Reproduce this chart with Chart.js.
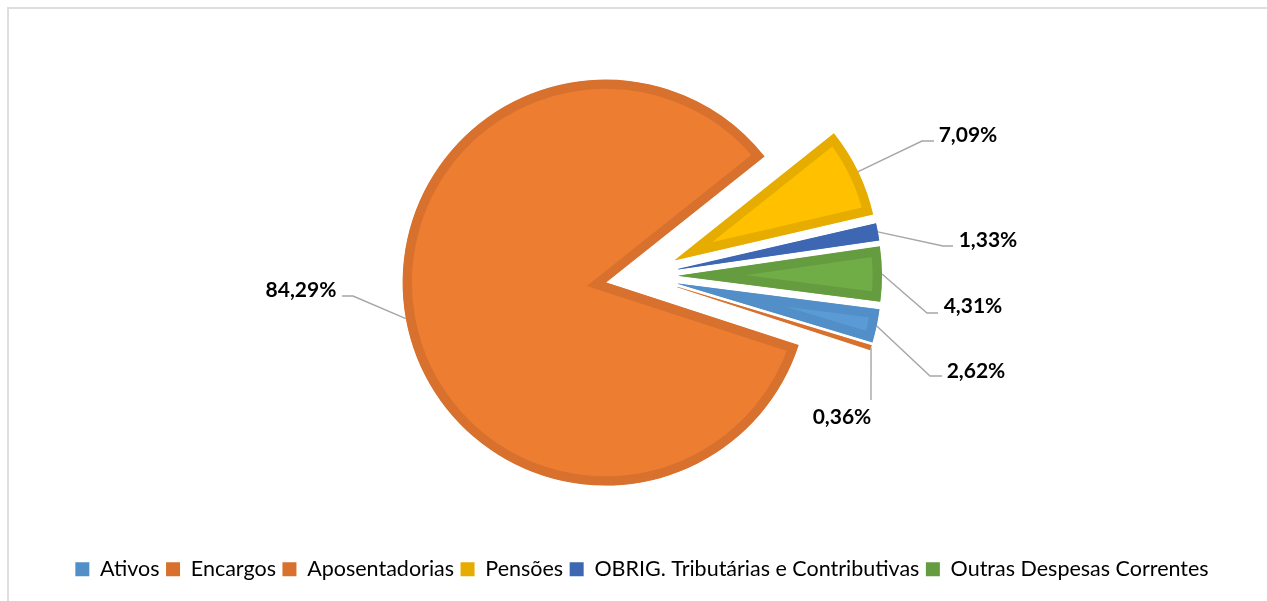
<!DOCTYPE html>
<html>
<head>
<meta charset="utf-8">
<script src="https://cdn.jsdelivr.net/npm/chart.js@4/dist/chart.umd.min.js"></script>
<style>
    html, body { margin: 0; padding: 0; background: #fff; overflow: hidden; }
    canvas { display: block; }
</style>
</head>
<body>
<canvas id="despesasChart" width="1267" height="601"></canvas>
<script>
// dados
const categorias = ['Ativos', 'Encargos', 'Aposentadorias', 'Pensões', 'OBRIG. Tributárias e Contributivas', 'Outras Despesas Correntes'];
const percentuais = [2.62, 0.36, 84.29, 7.09, 1.33, 4.31];

// cores (preenchimento / borda)
const corFundo = ['#5B9BD5', '#ED7D31', '#ED7D31', '#FFC000', '#4472C4', '#70AD47'];
const corBorda = ['#528fc8', '#d8712d', '#d8712d', '#e6ac00', '#3d67b2', '#659c40'];

const EXPLOSAO = 37; // afastamento de cada fatia

// posição dos rótulos relativa ao centro da pizza: [cotoveloX, cotoveloY, fimX, fimY, textoX, textoY]
const posRotulos = [
    [288, 100, 300, 100, 334, 95],
    [229, 124, 229, 124, 200, 141],
    [-289, 20, -300, 20, -341, 14],
    [280, -135, 292, -135, 326, -141],
    [301, -30, 311, -30, 346, -36],
    [285, 37, 296, 37, 331, 30]
];

function formataPct(v) {
    return v.toFixed(2).replace('.', ',') + '%';
}

const molduraPlugin = {
    id: 'moldura',
    beforeDraw(chart) {
        const ctx = chart.ctx;
        ctx.save();
        ctx.fillStyle = '#fff';
        ctx.fillRect(0, 0, chart.width, chart.height);
        ctx.strokeStyle = '#dedede';
        ctx.lineWidth = 2;
        ctx.strokeRect(8, 8, chart.width + 20, chart.height + 20);
        ctx.restore();
    }
};

// desenha cada fatia deslocada ao longo da sua bissetriz
const explodePlugin = {
    id: 'explode',
    beforeDatasetDraw(chart, args) {
        const ctx = chart.ctx;
        args.meta.data.forEach(arc => {
            const mid = (arc.startAngle + arc.endAngle) / 2;
            ctx.save();
            ctx.translate(Math.cos(mid) * EXPLOSAO, Math.sin(mid) * EXPLOSAO);
            arc.draw(ctx, chart.chartArea);
            ctx.restore();
        });
        return false;
    }
};

const rotulosPlugin = {
    id: 'rotulos',
    afterDatasetsDraw(chart) {
        const ctx = chart.ctx;
        const meta = chart.getDatasetMeta(0);
        ctx.save();
        meta.data.forEach((arc, i) => {
            const mid = (arc.startAngle + arc.endAngle) / 2;
            const r = arc.outerRadius + EXPLOSAO;
            const ax = arc.x + Math.cos(mid) * r;
            const ay = arc.y + Math.sin(mid) * r;
            const p = posRotulos[i];
            ctx.beginPath();
            ctx.moveTo(ax, ay);
            ctx.lineTo(arc.x + p[0], arc.y + p[1]);
            ctx.lineTo(arc.x + p[2], arc.y + p[3]);
            ctx.strokeStyle = '#a6a6a6';
            ctx.lineWidth = 1.4;
            ctx.stroke();

            ctx.fillStyle = '#000';
            ctx.font = 'bold 21px Lato';
            ctx.textAlign = 'center';
            ctx.textBaseline = 'middle';
            ctx.fillText(formataPct(percentuais[i]), arc.x + p[4], arc.y + p[5]);
        });
        ctx.restore();
    }
};

const ctx = document.getElementById('despesasChart').getContext('2d');

new Chart(ctx, {
    type: 'pie',
    data: {
        labels: categorias,
        datasets: [{
            data: percentuais,
            backgroundColor: corFundo,
            borderColor: corBorda,
            borderWidth: 9,
            borderAlign: 'inner',
            borderJoinStyle: 'miter'
        }]
    },
    options: {
        responsive: false,
        animation: false,
        rotation: 97.3,
        radius: 203,
        layout: {
            padding: { left: 17, right: 0, top: 0, bottom: 11 }
        },
        plugins: {
            tooltip: { enabled: false },
            legend: {
                display: true,
                position: 'bottom',
                labels: {
                    boxWidth: 14,
                    boxHeight: 14,
                    padding: 6.5,
                    color: '#000',
                    font: { family: 'Lato', size: 21.5 },
                    generateLabels(chart) {
                        return chart.data.labels.map((label, i) => ({
                            text: label,
                            fillStyle: corBorda[i],
                            strokeStyle: corBorda[i],
                            lineWidth: 0,
                            hidden: false,
                            index: i
                        }));
                    }
                }
            }
        }
    },
    plugins: [molduraPlugin, explodePlugin, rotulosPlugin]
});
</script>
</body>
</html>
